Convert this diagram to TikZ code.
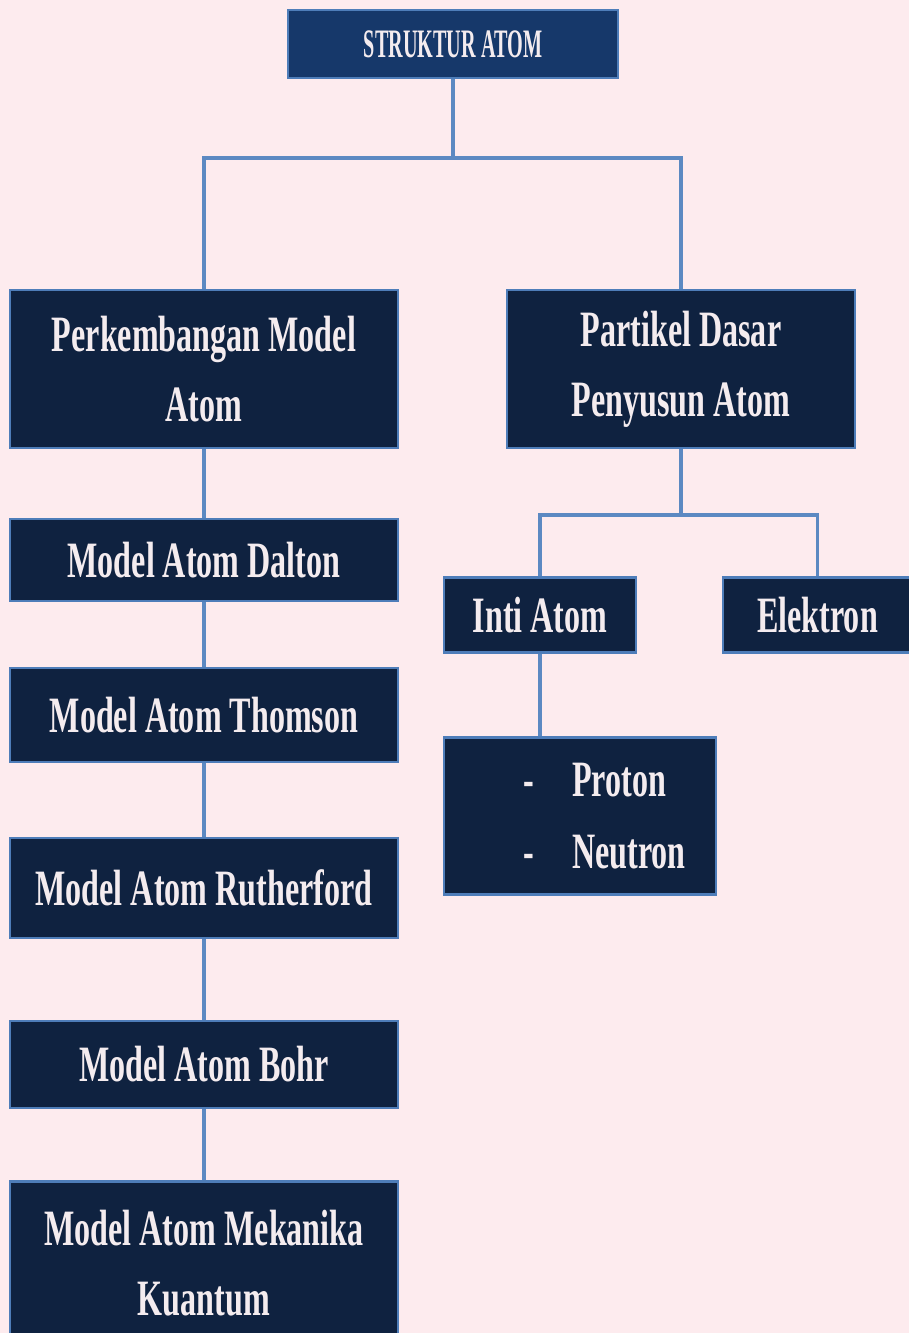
\documentclass[tikz,border=0pt]{standalone}
\usepackage{fontspec}
\newfontfamily\condfont[FakeStretch=0.63]{Liberation Serif}
\newfontfamily\titlefont[FakeStretch=0.5]{Liberation Serif}
\usepackage{tikz}
\usetikzlibrary{positioning,calc}
\definecolor{bgpink}{HTML}{FDEBEE}
\definecolor{boxnavy}{HTML}{0F2240}
\definecolor{titlenavy}{HTML}{16386A}
\definecolor{edgeblue}{HTML}{4E7DB9}
\definecolor{lineblue}{HTML}{5C89C2}
\definecolor{textwhite}{HTML}{F4ECEF}

\begin{document}
\begin{tikzpicture}[
        % Global Styles
        box/.style={rectangle, draw=edgeblue, line width=1.6pt, fill=boxnavy, text=textwhite, align=center, font=\condfont\bfseries\fontsize{29}{40}\selectfont, minimum width=7.76cm},
        headbox/.style={box, fill=titlenavy, font=\titlefont\bfseries\fontsize{23}{28}\selectfont},
        link/.style={draw=lineblue, line width=1.8pt}
    ]

    % --- Canvas ---
    \useasboundingbox (0,0) rectangle (18.18,-26.66);
    \clip (0,0) rectangle (18.18,-26.66);
    \fill [bgpink] (0,0) rectangle (18.18,-26.66);

    % --- Title ---
    \node (title) [headbox, minimum width=6.6cm, minimum height=1.36cm] at (9.06,-0.88) {STRUKTUR ATOM};

    % --- Left branch: atom models ---
    \node (perk) [box, minimum height=3.16cm] at (4.08,-7.38) {Perkembangan Model\\Atom};
    \node (dalton) [box, minimum height=1.64cm] at (4.08,-11.2) {Model Atom Dalton};
    \node (thomson) [box, minimum height=1.88cm] at (4.08,-14.3) {Model Atom Thomson};
    \node (rutherford) [box, minimum height=2cm] at (4.08,-17.76) {Model Atom Rutherford};
    \node (bohr) [box, minimum height=1.74cm] at (4.08,-21.29) {Model Atom Bohr};
    \node (kuantum) [box, minimum height=3.26cm] at (4.08,-25.26) {Model Atom Mekanika\\Kuantum};

    % --- Right branch: particles ---
    \node (partikel) [box, minimum width=6.96cm, minimum height=3.16cm] at (13.62,-7.38) {Partikel Dasar\\Penyusun Atom};
    \node (inti) [box, minimum width=3.84cm, minimum height=1.5cm] at (10.8,-12.3) {Inti Atom};
    \node (elektron) [box, minimum width=3.78cm, minimum height=1.5cm] at (16.35,-12.3) {Elektron};
    \node (nukleon) [box, minimum width=5.44cm, minimum height=3.14cm, inner xsep=0pt, text width=5.44cm, align=left, font=\condfont\bfseries\fontsize{29}{41}\selectfont] at (11.6,-16.32) {\hspace*{1.58cm}-\hspace{0.77cm}Proton\\\hspace*{1.58cm}-\hspace{0.77cm}Neutron};

    % --- CONNECTIONS ---
    \coordinate (fork) at (9.06,-3.16);
    \draw [link] (title.south) -- (fork);
    \draw [link] (perk.north) |- (fork) -| (partikel.north);

    \draw [link] (perk) -- (dalton);
    \draw [link] (dalton) -- (thomson);
    \draw [link] (thomson) -- (rutherford);
    \draw [link] (rutherford) -- (bohr);
    \draw [link] (bohr) -- (kuantum);

    \coordinate (fork2) at (13.62,-10.3);
    \draw [link] (partikel.south) -- (fork2);
    \draw [link] (inti.north) |- (fork2) -| (elektron.north);
    \draw [link] (inti.south) -- (inti.south |- nukleon.north);

\end{tikzpicture}
\end{document}
